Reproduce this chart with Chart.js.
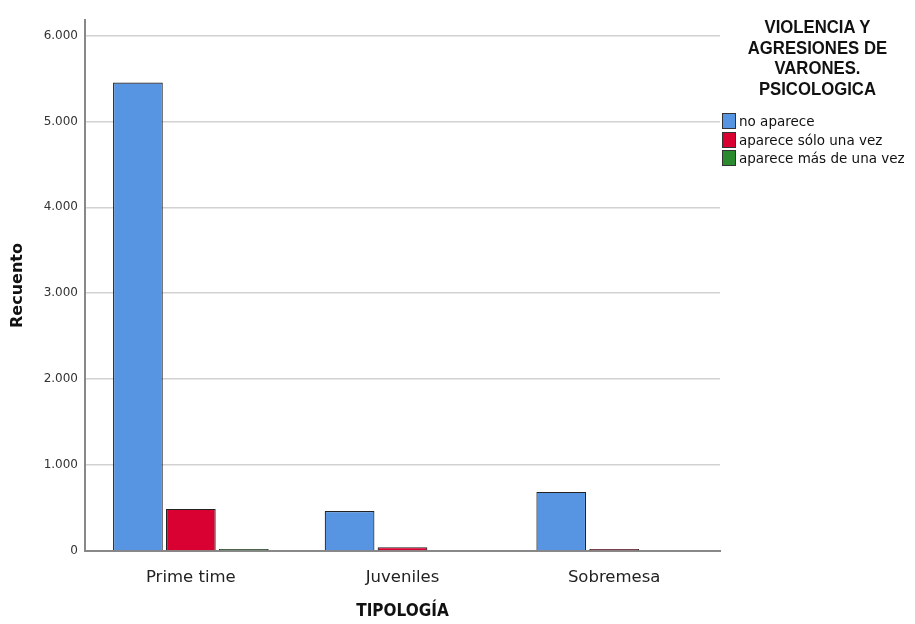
<!DOCTYPE html>
<html>
<head>
<meta charset="utf-8">
<script src="https://cdn.jsdelivr.net/npm/chart.js@4/dist/chart.umd.min.js"></script>
<style>
  body { margin: 0; background: #fff; }
  #wrap { position: relative; width: 915px; height: 624px; }
  #leyenda { position: absolute; left: 720px; top: 17px; width: 195px; font-family: "DejaVu Sans", sans-serif; color: #111; }
  #leyenda .titulo { font-family: "Liberation Sans", sans-serif; font-weight: bold; font-size: 19px; line-height: 20.5px; text-align: center; transform: scaleX(0.88); transform-origin: 97px 0; margin-left: 0px; margin-bottom: 13px; }
  #leyenda .item { display: flex; align-items: center; font-size: 13.5px; line-height: 18.5px; white-space: nowrap; }
  #leyenda .caja { width: 12px; height: 14px; border: 1px solid #333; margin: 0 3px 0 2px; }
</style>
</head>
<body>
<div id="wrap">
  <canvas id="graficoTipologia" width="915" height="624"></canvas>
  <div id="leyenda"></div>
</div>
<script>
const categorias = ['Prime time', 'Juveniles', 'Sobremesa'];
const etiquetasSerie = ['no aparece', 'aparece sólo una vez', 'aparece más de una vez'];
const noAparece = [5453, 465, 688];
const unaVez = [490, 45, 22];
const masDeUnaVez = [22, 0, 0];
const ticksY = [0, 1000, 2000, 3000, 4000, 5000, 6000];

const colores = ['#5795e2', '#d90032', '#2b8a2e'];

function formatoMiles(v) {
    return String(v).replace(/\B(?=(\d{3})+(?!\d))/g, '.');
}

const datos = {
    labels: categorias,
    datasets: [noAparece, unaVez, masDeUnaVez].map((serie, i) => ({
        label: etiquetasSerie[i],
        data: serie,
        backgroundColor: colores[i],
        borderColor: '#222',
        borderWidth: 1.2,
        categoryPercentage: 0.75,
        barPercentage: 0.94
    }))
};

const config = {
    type: 'bar',
    data: datos,
    options: {
        responsive: false,
        animation: false,
        layout: { padding: { top: 20, right: 195, left: 0, bottom: 0 } },
        plugins: {
            legend: { display: false },
            tooltip: { enabled: false }
        },
        scales: {
            x: {
                grid: { display: false },
                border: { color: '#888', width: 2 },
                ticks: { color: '#222', font: { family: 'DejaVu Sans', size: 16.5 }, padding: 9 },
                title: {
                    display: true,
                    text: 'TIPOLOGÍA',
                    color: '#111',
                    font: { family: 'DejaVu Sans Condensed, Liberation Sans, sans-serif', size: 17, weight: 'bold' },
                    padding: { top: 8, bottom: 2 }
                },
                afterFit: function (scale) { scale.height = 73; }
            },
            y: {
                min: 0,
                max: 6180,
                afterBuildTicks: function (scale) {
                    scale.ticks = ticksY.map(v => ({ value: v }));
                },
                grid: { color: '#d2d2d2', lineWidth: 1.5, drawTicks: false },
                border: { color: '#888', width: 2 },
                ticks: {
                    color: '#333',
                    font: { family: 'DejaVu Sans', size: 12 },
                    padding: 7,
                    callback: function (v) { return formatoMiles(v); }
                },
                title: {
                    display: true,
                    text: 'Recuento',
                    color: '#111',
                    font: { family: 'DejaVu Sans', size: 16, weight: 'bold' },
                    padding: { top: 8, bottom: 0 }
                },
                afterFit: function (scale) { scale.width = 85; }
            }
        }
    }
};

const graficoTipologia = new Chart(
    document.getElementById('graficoTipologia'),
    config
);

// leyenda a la derecha, hecha a mano por el título de varias líneas
const leyenda = document.getElementById('leyenda');
leyenda.innerHTML = '<div class="titulo">VIOLENCIA Y<br>AGRESIONES DE<br>VARONES.<br>PSICOLOGICA</div>' +
    datos.datasets.map(d =>
        '<div class="item"><span class="caja" style="background:' + d.backgroundColor + '"></span>' + d.label + '</div>'
    ).join('');
</script>
</body>
</html>
